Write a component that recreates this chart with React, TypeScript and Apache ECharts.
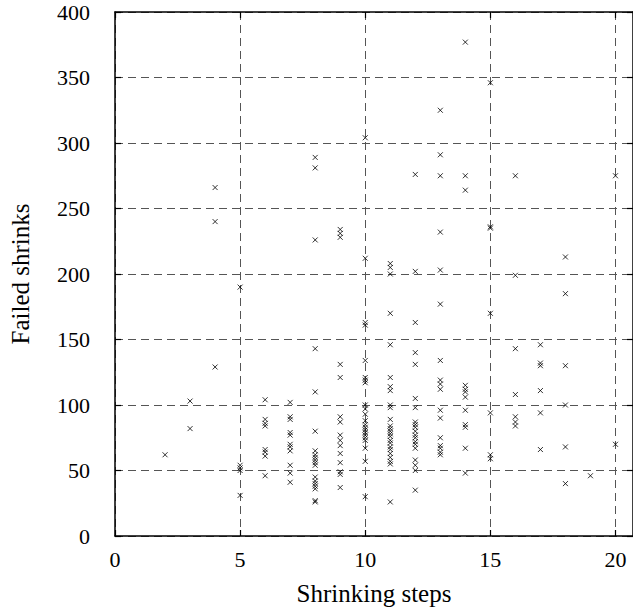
import React, { useEffect, useRef } from "react";
import * as echarts from "echarts";

// Shrinking steps (x) and the failed shrinks observed at each step (y)
const stepValues = [2, 3, 4, 5, 6, 7, 8, 9, 10, 11, 12, 13, 14, 15, 16, 17, 18, 19, 20];
const failedByStep: number[][] = [
  [62],
  [103, 82],
  [266, 240, 129],
  [190, 54, 52, 50, 31],
  [104, 89, 86, 84, 66, 64, 61, 46],
  [102, 91, 89, 79, 77, 70, 68, 65, 54, 48, 41],
  [289, 281, 226, 143, 110, 80, 65, 62, 60, 58, 56, 54, 45, 42, 40, 38, 36, 27, 26],
  [234, 231, 228, 131, 121, 91, 87, 77, 73, 69, 63, 56, 49, 47, 37],
  [304, 212, 163, 161, 134, 121, 119, 117, 100, 97, 93, 88, 85, 83, 81, 79, 77, 75, 73, 67, 57, 30],
  [208, 205, 200, 170, 146, 121, 114, 111, 100, 98, 89, 84, 82, 80, 78, 76, 73, 71, 68, 66, 63, 60, 57, 55, 26],
  [276, 202, 163, 140, 131, 105, 98, 87, 85, 83, 80, 77, 75, 72, 70, 67, 58, 54, 50, 35],
  [325, 291, 275, 232, 203, 177, 134, 119, 116, 112, 96, 90, 75, 69, 67, 64, 62],
  [377, 275, 264, 115, 112, 110, 106, 96, 85, 83, 67, 48],
  [346, 236, 235, 170, 94, 62, 59],
  [275, 199, 143, 108, 91, 87, 84],
  [146, 132, 130, 111, 94, 66],
  [213, 185, 130, 100, 68, 40],
  [46],
  [275, 70],
];

const xAxisTitle = "Shrinking steps";
const yAxisTitle = "Failed shrinks";

const FONT = "'Liberation Serif', 'DejaVu Serif', serif";

export default function App() {
  const ref = useRef<HTMLDivElement>(null);

  useEffect(() => {
    if (!ref.current) return;
    const chart = echarts.init(ref.current, undefined, { renderer: "svg" });

    const points: number[][] = [];
    stepValues.forEach((s, i) => {
      failedByStep[i].forEach((v) => points.push([s, v]));
    });

    const gridLine = {
      show: true,
      lineStyle: { color: "#555", width: 1, type: [8, 5] as any },
    };
    const tick = { show: true, inside: true, length: 6, lineStyle: { color: "#000", width: 1.2 } };

    chart.setOption({
      animation: false,
      backgroundColor: "#fff",
      grid: { left: 115, top: 12, right: 0, bottom: 75, containLabel: false },
      xAxis: [
        {
          type: "value",
          min: 0,
          max: 20.7,
          interval: 5,
          name: xAxisTitle,
          nameLocation: "middle",
          nameGap: 45,
          nameTextStyle: { fontFamily: FONT, fontSize: 25, color: "#000" },
          axisLine: { show: true, onZero: false, lineStyle: { color: "#000", width: 1.5 } },
          axisTick: tick,
          axisLabel: {
            fontFamily: FONT,
            fontSize: 22,
            color: "#000",
            margin: 12,
            showMaxLabel: false,
            formatter: (v: number) => (v % 5 === 0 ? String(v) : ""),
          },
          splitLine: gridLine,
        },
        {
          type: "value",
          position: "top",
          min: 0,
          max: 20.7,
          interval: 5,
          axisLine: { show: true, onZero: false, lineStyle: { color: "#000", width: 1.5 } },
          axisTick: tick,
          axisLabel: { show: false },
          splitLine: { show: false },
        },
      ],
      yAxis: [
        {
          type: "value",
          min: 0,
          max: 400,
          interval: 50,
          name: yAxisTitle,
          nameLocation: "middle",
          nameGap: 82,
          nameTextStyle: { fontFamily: FONT, fontSize: 25, color: "#000" },
          axisLine: { show: true, onZero: false, lineStyle: { color: "#000", width: 1.5 } },
          axisTick: tick,
          axisLabel: { fontFamily: FONT, fontSize: 22, color: "#000", margin: 25 },
          splitLine: gridLine,
        },
        {
          type: "value",
          position: "right",
          min: 0,
          max: 400,
          interval: 50,
          axisLine: { show: true, onZero: false, lineStyle: { color: "#000", width: 1.5 } },
          axisTick: tick,
          axisLabel: { show: false },
          splitLine: { show: false },
        },
      ],
      series: [
        {
          type: "scatter",
          xAxisIndex: 0,
          yAxisIndex: 0,
          data: points,
          symbol: "path://M0,0L10,10M10,0L0,10",
          symbolSize: 5,
          itemStyle: { color: "transparent", borderColor: "#000", borderWidth: 1 },
        },
      ],
    });

    return () => chart.dispose();
  }, []);

  return (
    <div
      ref={ref}
      style={{ position: "fixed", left: 0, top: 0, width: 633, height: 611, background: "#fff" }}
    />
  );
}
